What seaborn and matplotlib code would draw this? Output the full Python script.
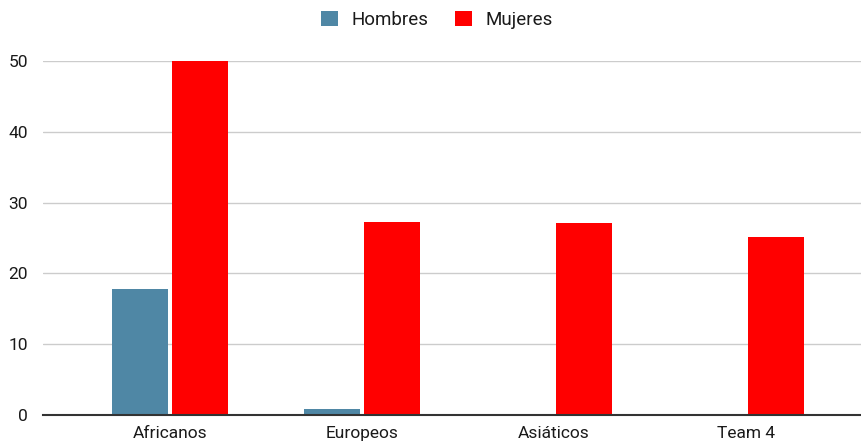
import matplotlib
matplotlib.use("Agg")
import matplotlib.pyplot as plt
import seaborn as sns
import pandas as pd
from matplotlib.patches import Patch

categories = ["Africanos", "Europeos", "Asiáticos", "Team 4"]
hombres = [17.8, 0.9, 0, 0]
mujeres = [50, 27.2, 27.1, 25.1]
series_names = ["Hombres", "Mujeres"]
colors = ["#4f87a5", "#ff0000"]
yticks = [0, 10, 20, 30, 40, 50]

df = pd.DataFrame({
    "cat": categories * 2,
    "val": hombres + mujeres,
    "serie": [series_names[0]] * 4 + [series_names[1]] * 4,
})

sns.set_theme(style="white")
plt.rcParams["font.family"] = ["Roboto", "DejaVu Sans"]

W, H = 862, 446
fig = plt.figure(figsize=(W / 100, H / 100), dpi=100)
ax = fig.add_axes([43 / W, (H - 415) / H, (862 - 43) / W, (415 - 61) / H])

sns.barplot(data=df, x="cat", y="val", hue="serie", palette=colors,
            width=0.625, gap=0.07, ax=ax, legend=False, saturation=1)
for p in ax.patches:
    p.set_linewidth(0)
    p.set_clip_on(False)

ax.set_xlim(-(170 - 43) / 192, 3 + (862 - 746) / 192)
ax.set_ylim(0, 50)
ax.set_yticks(yticks)
ax.set_yticklabels([str(v) for v in yticks])
ax.grid(axis="y", color="#cccccc", linewidth=1)
ax.set_axisbelow(True)
for s in ["top", "right", "left"]:
    ax.spines[s].set_visible(False)
ax.spines["bottom"].set_color("#333333")
ax.spines["bottom"].set_linewidth(1.5)
ax.spines["bottom"].set_zorder(5)
ax.tick_params(axis="both", length=0, labelsize=12.5, colors="#1a1a1a")
ax.tick_params(axis="y", pad=11)
ax.tick_params(axis="x", pad=8)
ax.set_xlabel("")
ax.set_ylabel("")

handles = [Patch(facecolor=c, edgecolor="none", label=n) for c, n in zip(colors, series_names)]
fig.legend(handles=handles, loc="center", bbox_to_anchor=(437 / W, (H - 20) / H), ncol=2,
           frameon=False, fontsize=13.5, handlelength=0.9, handleheight=0.9,
           handletextpad=0.75, columnspacing=1.4, labelcolor="#1a1a1a")

fig.savefig("out.png", dpi=100)
